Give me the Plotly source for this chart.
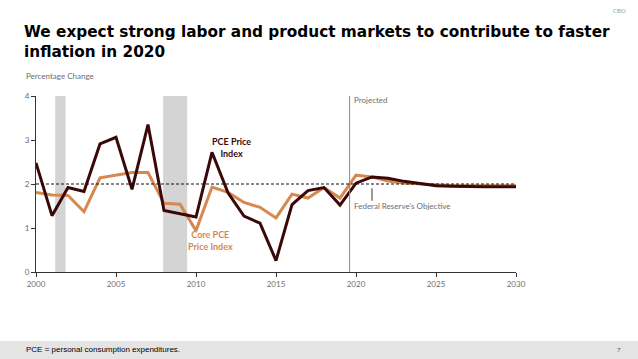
import plotly.graph_objects as go

years = list(range(2000, 2031))
pce = [2.48, 1.28, 1.92, 1.83, 2.91, 3.06, 1.88, 3.35, 1.40, 1.32, 1.25,
       2.72, 1.80, 1.27, 1.11, 0.26, 1.53, 1.85, 1.92, 1.52, 2.02,
       2.16, 2.13, 2.06, 2.01, 1.96, 1.95, 1.94, 1.94, 1.94, 1.94]
core_pce = [1.81, 1.75, 1.74, 1.37, 2.14, 2.20, 2.26, 2.26, 1.56, 1.54, 0.94,
            1.93, 1.81, 1.58, 1.47, 1.23, 1.77, 1.68, 1.92, 1.68, 2.20,
            2.16, 2.07, 2.02, 2.00, 1.97, 1.96, 1.96, 1.96, 1.96, 1.96]
recessions = [(2001.2, 2001.85), (2007.95, 2009.45)]
fed_objective = 2.0
projection_start = 2019.6
x_ticks = [2000, 2005, 2010, 2015, 2020, 2025, 2030]
y_ticks = [0, 1, 2, 3, 4]

DARK = "#3a0808"
ORANGE = "#d6884f"
GRAY = "#6e6e6e"
FONT = "Lato"

W, H = 638.0, 359.0
ML, MR, MT, MB = 36, 122, 96, 87
pw, ph = W - ML - MR, H - MT - MB
def px(x):
    return (x - ML) / pw
def py(y):
    return (H - MB - y) / ph

fig = go.Figure()

# page footer band
fig.add_shape(type="rect", xref="paper", yref="paper", x0=px(0), x1=px(638),
              y0=py(341), y1=py(359), fillcolor="#e4e4e4", line_width=0, layer="below")

for x0, x1 in recessions:
    fig.add_shape(type="rect", xref="x", yref="y", x0=x0, x1=x1, y0=0, y1=4,
                  fillcolor="#d4d4d4", line_width=0, layer="below")

fig.add_shape(type="line", xref="x", yref="y", x0=2000, x1=2030,
              y0=fed_objective, y1=fed_objective,
              line=dict(color="#111111", width=1, dash="3px,2px"))
fig.add_shape(type="line", xref="x", yref="y", x0=projection_start, x1=projection_start,
              y0=0, y1=4, line=dict(color="#8a8a8a", width=1))
fig.add_shape(type="line", xref="x", yref="y", x0=2021, x1=2021,
              y0=1.9, y1=1.62, line=dict(color="#333333", width=1))

fig.add_trace(go.Scatter(x=years, y=core_pce, mode="lines",
                         line=dict(color=ORANGE, width=3), hoverinfo="skip"))
fig.add_trace(go.Scatter(x=years, y=pce, mode="lines",
                         line=dict(color=DARK, width=3), hoverinfo="skip"))

fig.add_annotation(x=2012.2, y=2.82, xref="x", yref="y",
                   text="<b>PCE Price<br>Index</b>", showarrow=False,
                   font=dict(family=FONT, size=9, color=DARK), align="center")
fig.add_annotation(x=2010.9, y=0.72, xref="x", yref="y",
                   text="<b>Core PCE<br>Price Index</b>", showarrow=False,
                   font=dict(family=FONT, size=9, color=ORANGE), align="center")
fig.add_annotation(x=2019.75, y=3.92, xref="x", yref="y", xanchor="left",
                   text="Projected", showarrow=False,
                   font=dict(family=FONT, size=8, color=GRAY))
fig.add_annotation(x=2019.75, y=1.49, xref="x", yref="y", xanchor="left",
                   text="Federal Reserve's Objective", showarrow=False,
                   font=dict(family=FONT, size=8, color=GRAY))

fig.add_annotation(x=px(22), y=py(41.5), xref="paper", yref="paper", xanchor="left",
                   yanchor="middle", showarrow=False, align="left",
                   text="<b>We expect strong labor and product markets to contribute to faster<br>inflation in 2020</b>",
                   font=dict(family="DejaVu Sans", size=15.3, color="black"))
fig.add_annotation(x=px(24), y=py(76), xref="paper", yref="paper", xanchor="left",
                   yanchor="middle", showarrow=False, text="Percentage Change",
                   font=dict(family=FONT, size=8, color=GRAY))
fig.add_annotation(x=px(628), y=py(10), xref="paper", yref="paper", xanchor="right",
                   yanchor="middle", showarrow=False, text="CBO",
                   font=dict(family=FONT, size=6, color="#999999"))
fig.add_annotation(x=px(24), y=py(349), xref="paper", yref="paper", xanchor="left",
                   yanchor="middle", showarrow=False,
                   text="PCE = personal consumption expenditures.",
                   font=dict(family="Liberation Sans", size=8, color="black"))
fig.add_annotation(x=px(623), y=py(349), xref="paper", yref="paper", xanchor="right",
                   yanchor="middle", showarrow=False, text="7",
                   font=dict(family=FONT, size=6, color="#555555"))

fig.update_layout(
    width=638, height=359, autosize=False,
    margin=dict(l=ML, r=MR, t=MT, b=MB),
    plot_bgcolor="rgba(0,0,0,0)", paper_bgcolor="white",
    showlegend=False,
    xaxis=dict(range=[2000, 2030], tickvals=x_ticks, ticktext=[str(t) for t in x_ticks],
               showgrid=False, zeroline=False, showline=True, linecolor="#333333",
               linewidth=1, ticks="outside", ticklen=4, tickcolor="#333333",
               tickfont=dict(family=FONT, size=8, color=GRAY)),
    yaxis=dict(range=[0, 4], tickvals=y_ticks, showgrid=False, zeroline=False,
               showline=True, linecolor="#333333", linewidth=1, ticks="outside",
               ticklen=4, tickcolor="#333333",
               tickfont=dict(family=FONT, size=8, color=GRAY)),
)

fig.write_html("out.html", config={"displayModeBar": False},
               post_script="document.body.style.margin='0';document.body.style.overflow='hidden';")
